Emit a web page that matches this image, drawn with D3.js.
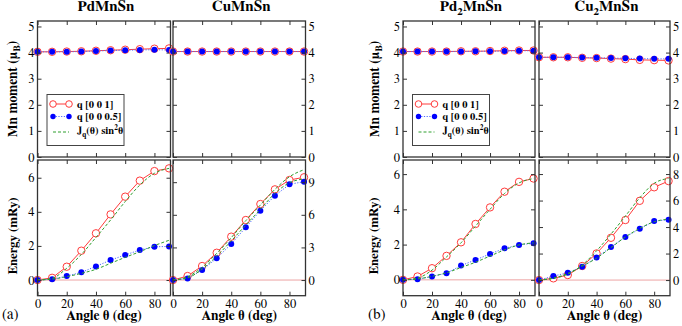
<!DOCTYPE html>
<meta charset="utf-8">
<script src="https://d3js.org/d3.v7.min.js"></script>
<style>
  body { margin: 0; background: #fff; }
</style>
<div id="chart"></div>
<script>

// angle grid (deg) and tick labels
var angles = [0, 10, 20, 30, 40, 50, 60, 70, 80, 90];
var angleTicks = [0, 20, 40, 60, 80];
var momentTicks = [0, 1, 2, 3, 4, 5];
var energyTicks = [[0, 2, 4, 6], [0, 3, 6, 9], [0, 2, 4, 6], [0, 2, 4, 6, 8]];
var compounds = ["PdMnSn", "CuMnSn", "Pd2MnSn", "Cu2MnSn"];
var groupLabels = ["(a)", "(b)"];

// Mn moment (muB), q [0 0 1] and q [0 0 0.5]
var momPdMnSnQ1   = [4.03, 4.03, 4.04, 4.05, 4.07, 4.09, 4.11, 4.13, 4.15, 4.16];
var momPdMnSnQ05  = [4.03, 4.03, 4.03, 4.04, 4.06, 4.08, 4.09, 4.10, 4.11, 4.10];
var momCuMnSnQ1   = [4.04, 4.04, 4.04, 4.04, 4.04, 4.04, 4.04, 4.04, 4.04, 4.04];
var momCuMnSnQ05  = [4.04, 4.04, 4.04, 4.04, 4.04, 4.04, 4.04, 4.04, 4.04, 4.04];
var momPd2MnSnQ1  = [4.04, 4.04, 4.04, 4.04, 4.05, 4.05, 4.06, 4.07, 4.08, 4.08];
var momPd2MnSnQ05 = [4.04, 4.04, 4.04, 4.04, 4.04, 4.05, 4.05, 4.06, 4.07, 4.07];
var momCu2MnSnQ1  = [3.82, 3.82, 3.82, 3.80, 3.79, 3.77, 3.75, 3.72, 3.71, 3.70];
var momCu2MnSnQ05 = [3.82, 3.82, 3.82, 3.81, 3.80, 3.79, 3.78, 3.77, 3.76, 3.76];

// Energy (mRy)
var enPdMnSnQ1   = [0, 0.13, 0.78, 1.72, 2.74, 3.85, 4.89, 5.83, 6.39, 6.55];
var enPdMnSnQ05  = [0, 0.04, 0.23, 0.45, 0.80, 1.17, 1.47, 1.76, 1.95, 1.97];
var enCuMnSnQ1   = [0, 0.37, 1.29, 2.51, 3.99, 5.52, 6.99, 8.34, 9.20, 9.45];
var enCuMnSnQ05  = [0, 0.15, 0.92, 2.00, 3.31, 4.85, 6.38, 7.76, 8.80, 9.05];
var enPd2MnSnQ1  = [0, 0.19, 0.66, 1.36, 2.13, 3.17, 4.11, 5.00, 5.56, 5.75];
var enPd2MnSnQ05 = [0, 0.04, 0.19, 0.38, 0.81, 1.13, 1.47, 1.79, 1.98, 2.08];
var enCu2MnSnQ1  = [0, 0.13, 0.38, 1.06, 2.01, 3.19, 4.53, 5.98, 7.00, 7.47];
var enCu2MnSnQ05 = [0, 0.30, 0.55, 1.00, 1.71, 2.49, 3.25, 3.87, 4.45, 4.55];

// J_q(theta) sin^2 theta
var fitPdMnSnQ1   = [0, 0.10, 0.69, 1.50, 2.50, 3.52, 4.60, 5.57, 6.26, 6.55];
var fitPdMnSnQ05  = [0, 0.05, 0.20, 0.39, 0.63, 0.98, 1.33, 1.66, 2.02, 2.33];
var fitCuMnSnQ1   = [0, 0.30, 1.17, 2.45, 3.90, 5.46, 6.90, 8.34, 9.50, 10.15];
var fitCuMnSnQ05  = [0, 0.20, 1.00, 2.20, 3.60, 5.06, 6.50, 7.97, 8.95, 9.30];
var fitPd2MnSnQ1  = [0, 0.10, 0.55, 1.30, 2.10, 3.05, 4.00, 4.90, 5.50, 5.75];
var fitPd2MnSnQ05 = [0, 0.05, 0.20, 0.40, 0.70, 1.00, 1.35, 1.70, 1.98, 2.10];
var fitCu2MnSnQ1  = [0, 0.13, 0.45, 1.13, 2.21, 3.47, 4.83, 6.21, 7.30, 7.67];
var fitCu2MnSnQ05 = [0, 0.15, 0.50, 1.05, 1.65, 2.45, 3.25, 3.90, 4.40, 4.60];

var moments = [[momPdMnSnQ1, momPdMnSnQ05], [momCuMnSnQ1, momCuMnSnQ05],
               [momPd2MnSnQ1, momPd2MnSnQ05], [momCu2MnSnQ1, momCu2MnSnQ05]];
var energies = [[enPdMnSnQ1, enPdMnSnQ05], [enCuMnSnQ1, enCuMnSnQ05],
                [enPd2MnSnQ1, enPd2MnSnQ05], [enCu2MnSnQ1, enCu2MnSnQ05]];
var fits = [[fitPdMnSnQ1, fitPdMnSnQ05], [fitCuMnSnQ1, fitCuMnSnQ05],
            [fitPd2MnSnQ1, fitPd2MnSnQ05], [fitCu2MnSnQ1, fitCu2MnSnQ05]];

// layout
var width = 682, height = 326;
var colX = [37.5, 173, 403, 539];
var colW = [133, 132.5, 132, 131];
var topRow = [21, 157], botRow = [160, 295.7];
var energyDomains = [[-0.92, 7.04], [-1.44, 11.04], [-0.9, 6.8], [-1.18, 9.06]];
var yTitleX = [17, 378.5];
var groupLabelX = [2, 368];

// one face name per text (a font list fell back to sans here)
var serif = "FreeSerif";

var red = "#ff3b3b", blue = "#0000ff", blueLine = "#4f6bff", green = "#2f9f2f";

var svg = d3.select("#chart").append("svg")
  .attr("width", width)
  .attr("height", height)
  .attr("font-family", serif);

function drawAxes(x, y, yTicks, showX, side) {
  var x0 = x.range()[0], x1 = x.range()[1];
  var yb = y.range()[0], yt = y.range()[1];
  var g = svg.append("g").attr("class", "axes");

  g.append("g").attr("transform", "translate(0," + yb + ")")
    .call(d3.axisBottom(x).tickValues(angleTicks).tickSize(-4).tickPadding(3.5)
      .tickFormat(showX ? d3.format("d") : ""));
  g.append("g").attr("transform", "translate(0," + yt + ")")
    .call(d3.axisTop(x).tickValues(angleTicks).tickSize(-4).tickFormat(""));
  g.append("g").attr("transform", "translate(" + x0 + ",0)")
    .call(d3.axisLeft(y).tickValues(yTicks).tickSize(-4).tickPadding(3)
      .tickFormat(side == "left" ? d3.format("d") : ""));
  g.append("g").attr("transform", "translate(" + x1 + ",0)")
    .call(d3.axisRight(y).tickValues(yTicks).tickSize(-4).tickPadding(3)
      .tickFormat(side == "right" ? d3.format("d") : ""));

  g.selectAll("g").attr("font-family", serif).attr("font-size", 12.5);
  g.selectAll(".domain").remove();
  g.selectAll(".tick line").attr("stroke", "#333").attr("stroke-width", 1);
  g.selectAll(".tick text").attr("fill", "#000");

  g.append("rect")
    .attr("x", x0).attr("y", yt)
    .attr("width", x1 - x0).attr("height", yb - yt)
    .attr("fill", "none").attr("stroke", "#333").attr("stroke-width", 1.3);
}

function drawSeries(x, y, q1, q05, fit) {
  var g = svg.append("g");
  var pts = function(vals) { return angles.map(function(a, i) { return [a, vals[i]]; }); };
  var line = d3.line().x(function(d) { return x(d[0]); }).y(function(d) { return y(d[1]); });
  var smooth = d3.line().curve(d3.curveMonotoneX)
    .x(function(d) { return x(d[0]); }).y(function(d) { return y(d[1]); });

  if (fit) {
    // zero reference
    g.append("line")
      .attr("x1", x.range()[0]).attr("x2", x.range()[1])
      .attr("y1", y(0)).attr("y2", y(0))
      .attr("stroke", "#eb9a9a").attr("stroke-width", 0.9);
  }

  g.append("path").datum(pts(q1)).attr("d", line)
    .attr("fill", "none").attr("stroke", red).attr("stroke-width", 1);
  g.selectAll(".q1").data(pts(q1)).enter().append("circle")
    .attr("cx", function(d) { return x(d[0]); })
    .attr("cy", function(d) { return y(d[1]); })
    .attr("r", 3.7).attr("fill", "#fff").attr("stroke", red).attr("stroke-width", 1);

  g.append("path").datum(pts(q05)).attr("d", line)
    .attr("fill", "none").attr("stroke", blueLine).attr("stroke-width", 1)
    .attr("stroke-dasharray", "1.2,1.5");
  g.selectAll(".q05").data(pts(q05)).enter().append("circle")
    .attr("cx", function(d) { return x(d[0]); })
    .attr("cy", function(d) { return y(d[1]); })
    .attr("r", 3).attr("fill", blue);

  if (fit) {
    fit.forEach(function(f) {
      g.append("path").datum(pts(f)).attr("d", smooth)
        .attr("fill", "none").attr("stroke", green).attr("stroke-width", 1)
        .attr("stroke-dasharray", "3,2");
    });
  }
}

function drawLegend(lx, ly) {
  var g = svg.append("g").attr("transform", "translate(" + lx + "," + ly + ")");
  g.append("rect").attr("width", 77).attr("height", 51)
    .attr("fill", "#fff").attr("stroke", "#444").attr("stroke-width", 1);

  var rows = [9.5, 22, 37.5];
  g.append("line").attr("x1", 6).attr("x2", 22).attr("y1", rows[0]).attr("y2", rows[0])
    .attr("stroke", red);
  [6, 22].forEach(function(cx) {
    g.append("circle").attr("cx", cx).attr("cy", rows[0]).attr("r", 3.3)
      .attr("fill", "#fff").attr("stroke", red);
  });
  g.append("line").attr("x1", 6).attr("x2", 22).attr("y1", rows[1]).attr("y2", rows[1])
    .attr("stroke", blueLine).attr("stroke-dasharray", "1.2,1.5");
  [6, 22].forEach(function(cx) {
    g.append("circle").attr("cx", cx).attr("cy", rows[1]).attr("r", 2.7).attr("fill", blue);
  });
  g.append("line").attr("x1", 6).attr("x2", 22).attr("y1", rows[2]).attr("y2", rows[2])
    .attr("stroke", green).attr("stroke-dasharray", "3,2");

  var t = g.append("g").attr("font-size", 10.5).attr("font-weight", "bold")
    .attr("font-family", serif);
  t.append("text").attr("x", 30).attr("y", rows[0] + 3.5).text("q [0 0 1]");
  t.append("text").attr("x", 30).attr("y", rows[1] + 3.5).text("q [0 0 0.5]");
  var j = t.append("text").attr("x", 30).attr("y", rows[2] + 2);
  j.append("tspan").text("J");
  j.append("tspan").attr("font-size", 7.5).attr("dy", 3).text("q");
  j.append("tspan").attr("dy", -3).text("(θ) sin");
  j.append("tspan").attr("font-size", 7.5).attr("dy", -4).text("2");
  j.append("tspan").attr("dy", 4).text("θ");
}

function subscriptName(el, name) {
  // digits in a formula become subscripts
  name.split(/(\d)/).filter(function(s) { return s.length; }).forEach(function(s) {
    if (/\d/.test(s)) el.append("tspan").attr("font-size", 11).attr("dy", 4).text(s);
    else el.append("tspan").attr("dy", el.selectAll("tspan").size() ? -4 : 0).text(s);
  });
}

compounds.forEach(function(name, i) {
  var side = i % 2 == 0 ? "left" : "right";
  var x = d3.scaleLinear().domain([0, 91]).range([colX[i], colX[i] + colW[i]]);
  var yTop = d3.scaleLinear().domain([0, 5.21]).range([topRow[1], topRow[0]]);
  var yBot = d3.scaleLinear().domain(energyDomains[i]).range([botRow[1], botRow[0]]);

  drawSeries(x, yTop, moments[i][0], moments[i][1], null);
  drawSeries(x, yBot, energies[i][0], energies[i][1], fits[i]);
  drawAxes(x, yTop, momentTicks, false, side);
  drawAxes(x, yBot, energyTicks[i], true, side);

  var cx = colX[i] + colW[i] / 2;
  var title = svg.append("text").attr("x", cx + 2).attr("y", 15)
    .attr("font-family", serif)
    .attr("text-anchor", "middle").attr("font-size", 15).attr("font-weight", "bold");
  subscriptName(title, name);

  svg.append("text").attr("x", cx).attr("y", 320)
    .attr("font-family", serif)
    .attr("text-anchor", "middle").attr("font-size", 13.5).attr("font-weight", "bold")
    .text("Angle θ (deg)");

  if (side == "left") {
    var gi = i / 2;
    drawLegend(colX[i] + 9.5, 94.5);

    var ym = svg.append("text")
      .attr("transform", "translate(" + yTitleX[gi] + "," + 89 + ") rotate(-90)")
      .attr("font-family", serif)
      .attr("text-anchor", "middle").attr("font-size", 13.5).attr("font-weight", "bold");
    ym.append("tspan").text("Mn moment (μ");
    ym.append("tspan").attr("font-size", 9.5).attr("dy", 3).text("B");
    ym.append("tspan").attr("dy", -3).text(")");

    svg.append("text")
      .attr("transform", "translate(" + (yTitleX[gi] - 0.5) + "," + 236 + ") rotate(-90)")
      .attr("font-family", serif)
      .attr("text-anchor", "middle").attr("font-size", 13).attr("font-weight", "bold")
      .text("Energy (mRy)");

    svg.append("text").attr("x", groupLabelX[gi]).attr("y", 319)
      .attr("font-family", serif)
      .attr("font-size", 15).text(groupLabels[gi]);
  }
});

</script>
